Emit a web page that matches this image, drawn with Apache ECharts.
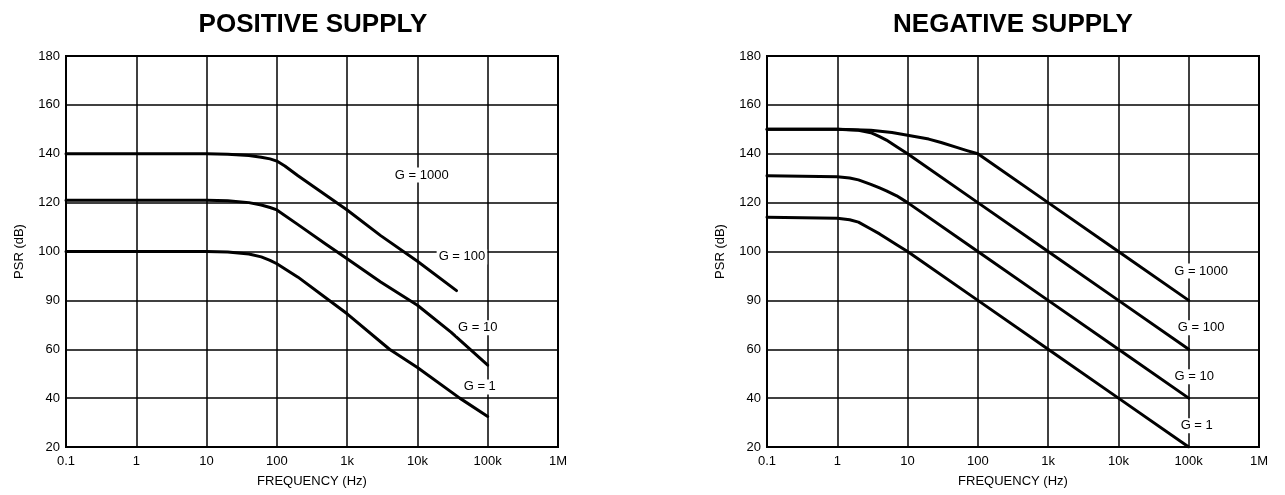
<!DOCTYPE html>
<html>
<head>
<meta charset="utf-8">
<script src="https://cdn.jsdelivr.net/npm/echarts@6/dist/echarts.min.js"></script>
<style>
  html, body { margin: 0; padding: 0; background: #fff; }
  #chart { width: 1285px; height: 495px; }
</style>
</head>
<body>
<div id="chart"></div>
<script>
// axis ticks
const freqTicks = [0.1, 1, 10, 100, 1e3, 1e4, 1e5, 1e6];
const freqTickLabels = ['0.1', '1', '10', '100', '1k', '10k', '100k', '1M'];
const psrTickLabels = ['20', '40', '60', '90', '100', '120', '140', '160', '180']; // "90" is printed that way on the original

// positive supply curves [Hz, dB]
const posG1 = [[0.1, 100], [10, 100], [20, 99.8], [40, 99], [60, 97.8], [80, 96.4], [100, 95], [200, 89.5], [500, 81], [1000, 74.5], [4000, 60], [10000, 52.5], [40000, 40], [100000, 32.5]];
const posG100 = [[0.1, 121], [10, 121], [20, 120.8], [40, 120], [60, 119], [80, 118], [100, 117], [200, 111], [500, 103], [1000, 97], [3000, 87.5], [10000, 78], [30000, 67], [100000, 53.5]];
const posG1000 = [[0.1, 140], [10, 140], [20, 139.8], [40, 139.3], [60, 138.6], [80, 137.9], [100, 137], [130, 135], [200, 131], [500, 123], [1000, 117], [3000, 106.5], [10000, 96], [36000, 84]];

// negative supply curves [Hz, dB]
const negG1 = [[0.1, 114], [1, 113.6], [1.5, 113], [2, 112], [3, 109.2], [4, 107.2], [5, 105.4], [7, 102.8], [10, 100], [100, 80], [1000, 60], [10000, 40], [100000, 20]];
const negG10 = [[0.1, 131], [1, 130.6], [1.5, 130.1], [2, 129.3], [3, 127.5], [4, 126], [5, 124.8], [7, 122.8], [10, 120], [100, 100], [1000, 80], [10000, 60], [100000, 40]];
const negG100 = [[0.1, 150], [1, 150], [2, 149.6], [3, 148.6], [4, 147], [5, 145.6], [7, 142.9], [10, 140], [100, 120], [1000, 100], [10000, 80], [100000, 60]];
const negG1000 = [[0.1, 150], [1, 150], [3, 149.6], [6, 148.7], [10, 147.6], [20, 146], [30, 144.6], [50, 142.6], [70, 141.3], [100, 140], [1000, 120], [10000, 100], [100000, 80]];

// curve labels: [text, Hz, dB]
const posLabels = [['G = 1000', 11500, 131.3], ['G = 100', 43000, 97.8], ['G = 10', 72000, 68.8], ['G = 1', 77000, 44.6]];
const negLabels = [['G = 1000', 150000, 92], ['G = 100', 150000, 68.8], ['G = 10', 120000, 48.7], ['G = 1', 130000, 28.7]];

const FONT = '"Liberation Sans", Arial, sans-serif';

function xAxisFor(gridIndex) {
  return {
    gridIndex: gridIndex,
    type: 'log',
    logBase: 10,
    min: freqTicks[0],
    max: freqTicks[freqTicks.length - 1],
    splitNumber: 7,
    name: 'FREQUENCY (Hz)',
    nameLocation: 'middle',
    nameGap: 28,
    nameTextStyle: { color: '#000', fontSize: 13, fontFamily: FONT },
    axisLine: { show: false },
    axisTick: { show: false },
    axisLabel: {
      color: '#000', fontSize: 13, fontFamily: FONT, margin: 8,
      formatter: v => freqTickLabels[Math.round(Math.log10(v)) + 1]
    },
    splitLine: { show: true, lineStyle: { color: '#000', width: 1.5 } }
  };
}

function yAxisFor(gridIndex) {
  return {
    gridIndex: gridIndex,
    type: 'value',
    min: 20,
    max: 180,
    interval: 20,
    name: 'PSR (dB)',
    nameLocation: 'middle',
    nameRotate: 90,
    nameGap: 40,
    nameTextStyle: { color: '#000', fontSize: 13, fontFamily: FONT },
    axisLine: { show: false },
    axisTick: { show: false },
    axisLabel: {
      color: '#000', fontSize: 13, fontFamily: FONT, margin: 6,
      formatter: v => psrTickLabels[Math.round((v - 20) / 20)]
    },
    splitLine: { show: true, lineStyle: { color: '#000', width: 1.5 } }
  };
}

function curve(data, idx, labels) {
  const s = {
    type: 'line',
    xAxisIndex: idx,
    yAxisIndex: idx,
    data: data,
    showSymbol: false,
    smooth: false,
    lineStyle: { color: '#000', width: 3, join: 'round', cap: 'round' },
    z: 3
  };
  if (labels) {
    s.markPoint = {
      symbol: 'rect',
      symbolSize: 0,
      z: 5,
      label: {
        show: true,
        position: 'inside',
        color: '#000',
        fontSize: 13,
        fontFamily: FONT,
        backgroundColor: '#fff',
        padding: [1, 2],
        formatter: p => p.name
      },
      data: labels.map(l => ({ name: l[0], coord: [l[1], l[2]] }))
    };
  }
  return s;
}

const chart = echarts.init(document.getElementById('chart'), null, { renderer: 'canvas' });

chart.setOption({
  backgroundColor: '#fff',
  animation: false,
  title: [
    { text: 'POSITIVE SUPPLY', left: 308, top: 7, textAlign: 'center',
      textStyle: { color: '#000', fontSize: 26, fontWeight: 'bold', fontFamily: FONT } },
    { text: 'NEGATIVE SUPPLY', left: 1008, top: 7, textAlign: 'center',
      textStyle: { color: '#000', fontSize: 26, fontWeight: 'bold', fontFamily: FONT } }
  ],
  grid: [
    { left: 66, top: 56, width: 492, height: 391, show: true, borderColor: '#000', borderWidth: 2, backgroundColor: 'transparent' },
    { left: 767, top: 56, width: 492, height: 391, show: true, borderColor: '#000', borderWidth: 2, backgroundColor: 'transparent' }
  ],
  xAxis: [xAxisFor(0), xAxisFor(1)],
  yAxis: [yAxisFor(0), yAxisFor(1)],
  series: [
    curve(posG1, 0),
    curve(posG100, 0),
    curve(posG1000, 0, posLabels),
    curve(negG1, 1),
    curve(negG10, 1),
    curve(negG100, 1),
    curve(negG1000, 1, negLabels)
  ]
});
</script>
</body>
</html>
